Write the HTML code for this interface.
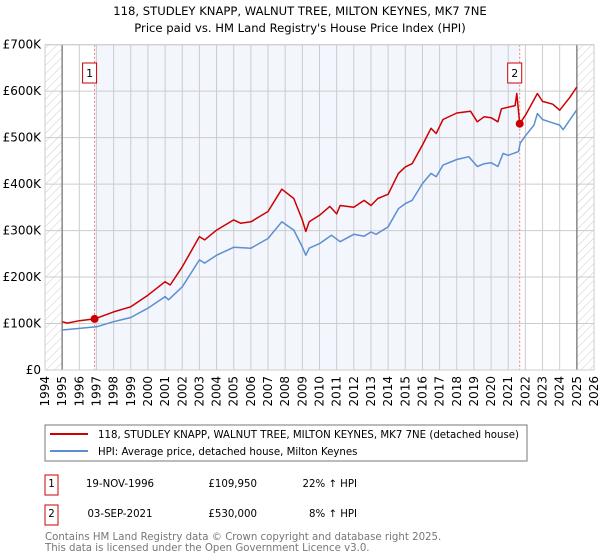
<!DOCTYPE html>
<html><head><meta charset="utf-8"><style>
body{margin:0;background:#fff;width:600px;height:560px;overflow:hidden;font-family:"DejaVu Sans","Liberation Sans",sans-serif;}
svg{display:block}
</style></head><body>
<svg id="chart" width="600" height="560" viewBox="0 0 600 560" xmlns="http://www.w3.org/2000/svg" font-family="DejaVu Sans, Liberation Sans, sans-serif">
<defs><pattern id="hatch" width="6" height="6" patternUnits="userSpaceOnUse" patternTransform="rotate(45)"><line x1="0" y1="0" x2="0" y2="6" stroke="#ccc" stroke-width="1"/></pattern></defs>
<text x="300" y="15" text-anchor="middle" font-size="11.6">118, STUDLEY KNAPP, WALNUT TREE, MILTON KEYNES, MK7 7NE</text>
<text x="300" y="32" text-anchor="middle" font-size="11.6">Price paid vs. HM Land Registry's House Price Index (HPI)</text>
<g id="plot"></g>
<g>
<rect x="45" y="425" width="482" height="36" fill="#fff" stroke="#777"/>
<line x1="50" y1="434" x2="88" y2="434" stroke="#cc0000" stroke-width="2"/>
<text x="98" y="438" font-size="10.2">118, STUDLEY KNAPP, WALNUT TREE, MILTON KEYNES, MK7 7NE (detached house)</text>
<line x1="50" y1="451" x2="88" y2="451" stroke="#5b8fd0" stroke-width="2"/>
<text x="98" y="455" font-size="10.2">HPI: Average price, detached house, Milton Keynes</text>
</g>
<g font-size="10.2">
<rect x="45" y="475" width="13" height="20" fill="#fff" stroke="#cc0000"/><text x="51.5" y="487" text-anchor="middle">1</text>
<text x="120" y="487" text-anchor="middle">19-NOV-1996</text><text x="257" y="487" text-anchor="end">£109,950</text><text x="357" y="487" text-anchor="end">22% ↑ HPI</text>
<rect x="45" y="505" width="13" height="20" fill="#fff" stroke="#cc0000"/><text x="51.5" y="517" text-anchor="middle">2</text>
<text x="120" y="517" text-anchor="middle">03-SEP-2021</text><text x="257" y="517" text-anchor="end">£530,000</text><text x="357" y="517" text-anchor="end">8% ↑ HPI</text>
</g>
<text x="45" y="540" font-size="10.2" fill="#777">Contains HM Land Registry data © Crown copyright and database right 2025.</text>
<text x="45" y="551" font-size="10.2" fill="#777">This data is licensed under the Open Government Licence v3.0.</text>
</svg>
<script>
const yTicks=[0,100000,200000,300000,400000,500000,600000,700000];
const yTickLabels=["£0","£100K","£200K","£300K","£400K","£500K","£600K","£700K"];
const years=[1994,1995,1996,1997,1998,1999,2000,2001,2002,2003,2004,2005,2006,2007,2008,2009,2010,2011,2012,2013,2014,2015,2016,2017,2018,2019,2020,2021,2022,2023,2024,2025,2026];
const hpiDates=[1995,1997,1998,1999,2000,2001,2001.2,2002,2003,2003.3,2004,2005,2006,2007,2007.8,2008.5,2009,2009.2,2009.4,2010,2010.7,2011.2,2012,2012.6,2013,2013.3,2014,2014.6,2015,2015.4,2016,2016.5,2016.8,2017.2,2018,2018.7,2019.2,2019.6,2020,2020.4,2020.7,2021,2021.6,2021.7,2022,2022.5,2022.7,2023,2023.4,2024,2024.2,2025];
const hpiValues=[86,93,104,113,133,158,151,179,237,230,247,264,262,283,319,301,265,247,262,272,290,276,292,288,297,292,308,347,358,365,401,423,416,441,453,459,438,444,446,438,466,462,470,488,504,527,552,539,534,527,517,560];
const priceDates=[1995,1995.3,1996,1996.89,1998,1999,2000,2001,2001.3,2002,2003,2003.3,2004,2005,2005.4,2006,2007,2007.8,2008.5,2009,2009.2,2009.4,2010,2010.6,2011,2011.2,2012,2012.6,2013,2013.4,2014,2014.6,2015,2015.4,2016,2016.5,2016.8,2017.2,2018,2018.8,2019.2,2019.6,2020,2020.4,2020.6,2021.4,2021.5,2021.67,2022,2022.7,2023,2023.6,2024,2024.6,2025];
const priceValues=[104,101,106,109.95,125,136,161,190,183,222,287,280,301,323,316,319,341,389,369,323,298,319,333,352,336,354,350,365,354,369,378,423,437,444,484,520,509,539,553,557,534,545,543,534,562,569,595,530,548,595,578,572,559,587,609];
const saleDates=[1996.89,2021.67];
const saleValues=[109950,530000];
const saleLabels=["1","2"];

const X0=45,X1=594,Y0=370,Y1=44.7;
const xs=y=>X0+(y-1994)/(2026-1994)*(X1-X0);
const ys=v=>Y0-v/700000*(Y0-Y1);
const NS="http://www.w3.org/2000/svg";
const g=document.getElementById('plot');
function mk(t,a,p){const e=document.createElementNS(NS,t);for(const k in a)e.setAttribute(k,a[k]);(p||g).appendChild(e);return e;}
let e;
e=mk('rect',{x:xs(saleDates[0]),y:Y1,width:xs(saleDates[1])-xs(saleDates[0]),height:Y0-Y1,fill:'#f0f4fd',opacity:0.8});


e=mk('rect',{x:X0,y:Y1,width:xs(1995)-X0,height:Y0-Y1,fill:'url(#hatch)'});


e=mk('rect',{x:xs(2025),y:Y1,width:X1-xs(2025),height:Y0-Y1,fill:'url(#hatch)'});


yTicks.forEach((v,i)=>{
 e=mk('line',{x1:X0,x2:X1,y1:ys(v),y2:ys(v),stroke:'#ccc'});
 
 
 e=mk('text',{x:X0-4,y:ys(v)+4,'text-anchor':'end','font-size':'12'});e.textContent=yTickLabels[i];
 
 
});
years.forEach(y=>{
 e=mk('line',{x1:xs(y),x2:xs(y),y1:Y1,y2:Y0,stroke:'#ccc'});
 
 
 e=mk('text',{x:xs(y)+4,y:Y0+6,'text-anchor':'end','font-size':'12',transform:`rotate(-90 ${xs(y)+4} ${Y0+6})`});e.textContent=y;
 
 
});
[1995,2025].forEach(y=>{e=mk('line',{x1:xs(y),x2:xs(y),y1:Y1,y2:Y0,stroke:'#888','stroke-width':1.5});
 
 });
saleDates.forEach(d=>{e=mk('line',{x1:xs(d),x2:xs(d),y1:Y1,y2:Y0,stroke:'#f08080','stroke-dasharray':'2,2'});
 
 });
function path(d,v,c,n){let s='';d.forEach((t,i)=>s+=(i?'L':'M')+xs(t).toFixed(1)+','+ys(v[i]*1000).toFixed(1));
 e=mk('path',{d:s,fill:'none',stroke:c,'stroke-width':1.5,'stroke-linejoin':'round'});
 
 }
path(hpiDates,hpiValues,'#5b8fd0','hpi-line');
path(priceDates,priceValues,'#cc0000','price-line');
saleDates.forEach((d,i)=>{
 e=mk('circle',{cx:xs(d),cy:ys(saleValues[i]),r:4,fill:'#cc0000'});
 
 
 e=mk('rect',{x:xs(d)-12,y:63,width:14,height:20,fill:'#fff',stroke:'#cc0000'});
 
 
 e=mk('text',{x:xs(d)-5,y:77,'text-anchor':'middle','font-size':'11'});e.textContent=saleLabels[i];
 
 
});
e=mk('rect',{x:X0,y:Y1,width:X1-X0,height:Y0-Y1,fill:'none',stroke:'#ccc'});


</script>
</body></html>
